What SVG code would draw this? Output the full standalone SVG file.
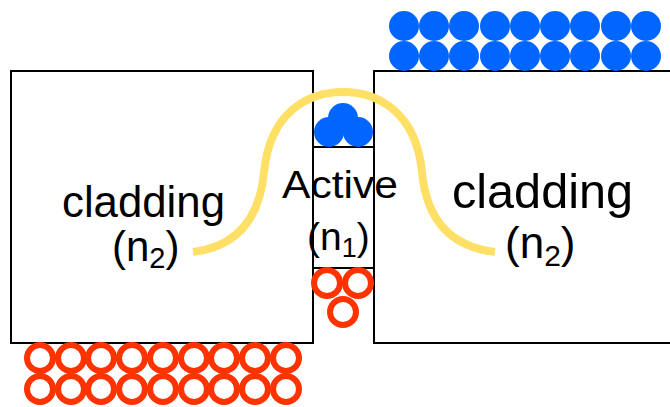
<svg xmlns="http://www.w3.org/2000/svg" width="670" height="407" viewBox="0 0 670 407">
<defs>
<style>
.box{fill:#fff;stroke:#000;stroke-width:2}
.ln{stroke:#000;stroke-width:2;fill:none}
.blue{fill:#0066ff}
.red{fill:none;stroke:#ff3300;stroke-width:6}
.t{font-family:"Liberation Sans",Arial,sans-serif;fill:#000}
.beam{fill:none;stroke:#ffe066;stroke-width:8}
</style>
</defs>
<rect width="670" height="407" fill="#fff"/>
<g id="left-cladding">
<rect class="box" x="11" y="71" width="302" height="272"/>
</g>
<g id="right-cladding">
<rect class="box" x="374" y="71" width="300" height="272"/>
</g>
<g id="active">
<line class="ln" x1="313" y1="147" x2="374" y2="147"/>
<line class="ln" x1="313" y1="268" x2="374" y2="268"/>
</g>
<g id="blue-top">
<g class="blue">
<circle cx="404" cy="26" r="15"/><circle cx="434" cy="26" r="15"/><circle cx="464" cy="26" r="15"/><circle cx="495" cy="26" r="15"/><circle cx="525" cy="26" r="15"/><circle cx="555" cy="26" r="15"/><circle cx="585" cy="26" r="15"/><circle cx="616" cy="26" r="15"/><circle cx="646" cy="26" r="15"/>
<circle cx="404" cy="56" r="15"/><circle cx="434" cy="56" r="15"/><circle cx="464" cy="56" r="15"/><circle cx="495" cy="56" r="15"/><circle cx="525" cy="56" r="15"/><circle cx="555" cy="56" r="15"/><circle cx="585" cy="56" r="15"/><circle cx="616" cy="56" r="15"/><circle cx="646" cy="56" r="15"/>
</g>
</g>
<g id="blue-active">
<g class="blue">
<circle cx="343" cy="118" r="15"/><circle cx="329" cy="132" r="15"/><circle cx="358" cy="132" r="15"/>
</g>
</g>
<g id="red-active">
<g class="red">
<circle cx="327" cy="283" r="13"/><circle cx="358" cy="283" r="13"/><circle cx="343" cy="312" r="13"/>
</g>
</g>
<g id="red-bottom">
<g class="red">
<circle cx="40" cy="358" r="13"/><circle cx="71" cy="358" r="13"/><circle cx="101" cy="358" r="13"/><circle cx="132" cy="358" r="13"/><circle cx="163" cy="358" r="13"/><circle cx="194" cy="358" r="13"/><circle cx="224" cy="358" r="13"/><circle cx="255" cy="358" r="13"/><circle cx="286" cy="358" r="13"/>
<circle cx="40" cy="389" r="13"/><circle cx="71" cy="389" r="13"/><circle cx="101" cy="389" r="13"/><circle cx="132" cy="389" r="13"/><circle cx="163" cy="389" r="13"/><circle cx="194" cy="389" r="13"/><circle cx="224" cy="389" r="13"/><circle cx="255" cy="389" r="13"/><circle cx="286" cy="389" r="13"/>
</g>
</g>
<g id="mode">
<path class="beam" d="M193,252 C240,246 260,215 264,172 C270,112 308,92 343,92 C378,92 416,112 422,172 C426,215 446,246 495,252"/>
</g>
<g id="labels">
<text class="t" x="143.5" y="217" font-size="44" text-anchor="middle" textLength="163" lengthAdjust="spacingAndGlyphs">cladding</text>
<text class="t" x="112" y="261" font-size="42">(n<tspan font-size="29" dy="7">2</tspan><tspan dy="-7">)</tspan></text>
<text class="t" x="542.5" y="208" font-size="48" text-anchor="middle" textLength="181" lengthAdjust="spacingAndGlyphs">cladding</text>
<text class="t" x="505" y="258" font-size="44">(n<tspan font-size="30" dy="8">2</tspan><tspan dy="-8">)</tspan></text>
<text class="t" x="340" y="198" font-size="39" text-anchor="middle" textLength="116" lengthAdjust="spacingAndGlyphs">Active</text>
<text class="t" x="307" y="250" font-size="39">(n<tspan font-size="27" dy="7">1</tspan><tspan dy="-7">)</tspan></text>
</g>
</svg>
